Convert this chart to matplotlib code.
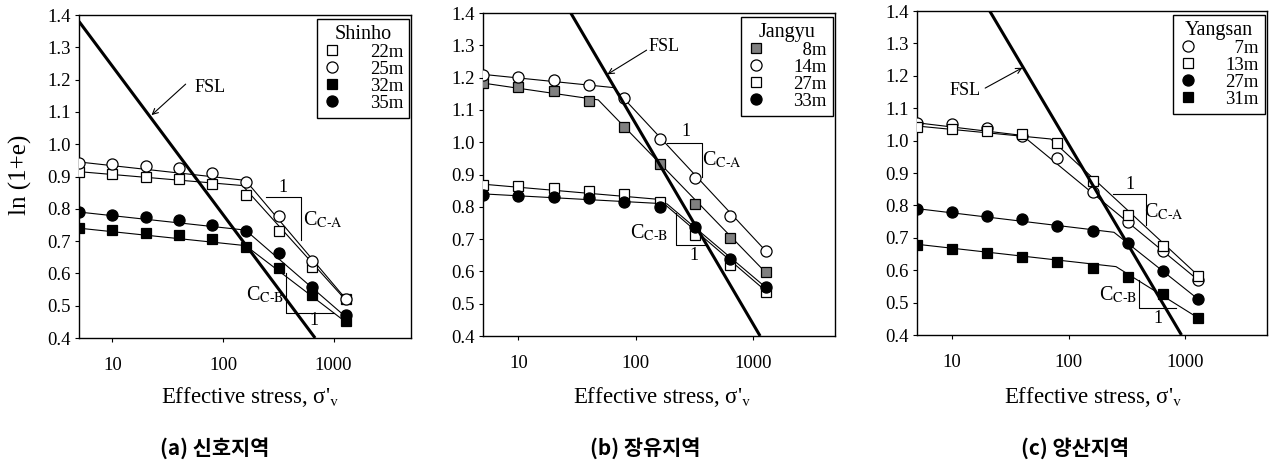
import matplotlib
matplotlib.use('Agg')
import matplotlib.pyplot as plt
from matplotlib.lines import Line2D

plt.rcParams['font.family'] = ['Liberation Serif', 'DejaVu Serif']
plt.rcParams['mathtext.fontset'] = 'stix'

# consolidation test points, e = void ratio, plotted as ln(1+e)
stress = [5, 10, 20, 40, 80, 160, 320, 640, 1280]

shinho_22 = [0.915, 0.908, 0.899, 0.891, 0.877, 0.843, 0.732, 0.621, 0.521]
shinho_25 = [0.943, 0.938, 0.933, 0.925, 0.910, 0.884, 0.778, 0.638, 0.521]
shinho_32 = [0.740, 0.734, 0.724, 0.719, 0.706, 0.683, 0.618, 0.533, 0.454]
shinho_35 = [0.789, 0.781, 0.774, 0.765, 0.750, 0.732, 0.662, 0.557, 0.471]

jangyu_8 = [1.184, 1.172, 1.159, 1.128, 1.046, 0.932, 0.809, 0.704, 0.597]
jangyu_14 = [1.208, 1.201, 1.193, 1.177, 1.136, 1.009, 0.888, 0.772, 0.664]
jangyu_27 = [0.867, 0.864, 0.857, 0.850, 0.839, 0.815, 0.713, 0.620, 0.537]
jangyu_33 = [0.837, 0.833, 0.831, 0.826, 0.816, 0.800, 0.738, 0.637, 0.551]

yangsan_7 = [1.055, 1.050, 1.040, 1.014, 0.945, 0.842, 0.750, 0.660, 0.570]
yangsan_13 = [1.041, 1.035, 1.030, 1.019, 0.992, 0.875, 0.770, 0.675, 0.582]
yangsan_27 = [0.788, 0.779, 0.768, 0.758, 0.737, 0.721, 0.683, 0.598, 0.511]
yangsan_31 = [0.678, 0.665, 0.654, 0.642, 0.626, 0.608, 0.580, 0.527, 0.453]

# bilinear fits (start, yield point, end)
shinho_22_fit = ([5, 150, 1280], [0.915, 0.872, 0.518])
shinho_25_fit = ([5, 160, 1280], [0.945, 0.888, 0.522])
shinho_32_fit = ([5, 160, 1280], [0.740, 0.686, 0.450])
shinho_35_fit = ([5, 160, 1280], [0.790, 0.734, 0.466])

jangyu_8_fit = ([5, 48, 1280], [1.183, 1.131, 0.597])
jangyu_14_fit = ([5, 65, 1280], [1.210, 1.169, 0.664])
jangyu_27_fit = ([5, 158, 1280], [0.870, 0.823, 0.540])
jangyu_33_fit = ([5, 185, 1280], [0.840, 0.809, 0.551])

yangsan_7_fit = ([5, 40, 1280], [1.055, 1.016, 0.570])
yangsan_13_fit = ([5, 70, 1280], [1.045, 1.005, 0.584])
yangsan_27_fit = ([5, 244, 1280], [0.790, 0.717, 0.511])
yangsan_31_fit = ([5, 254, 1280], [0.680, 0.611, 0.453])

# flow state line ends
shinho_fsl = ([5, 680], [1.38, 0.40])
jangyu_fsl = ([28, 1150], [1.40, 0.40])
yangsan_fsl = ([21, 925], [1.40, 0.40])

site_names = ['Shinho', 'Jangyu', 'Yangsan']
captions = ['(a) 신호지역', '(b) 장유지역', '(c) 양산지역']

open_sq = dict(marker='s', mfc='white', mec='black', ms=6.5)
open_ci = dict(marker='o', mfc='white', mec='black', ms=8)
full_sq = dict(marker='s', mfc='black', mec='black', ms=6.5)
full_ci = dict(marker='o', mfc='black', mec='black', ms=8)
grey_sq = dict(marker='s', mfc='0.5', mec='black', ms=6.5)

panels = [
    [('22m', shinho_22, shinho_22_fit, open_sq),
     ('25m', shinho_25, shinho_25_fit, open_ci),
     ('32m', shinho_32, shinho_32_fit, full_sq),
     ('35m', shinho_35, shinho_35_fit, full_ci)],
    [('  8m', jangyu_8, jangyu_8_fit, grey_sq),
     ('14m', jangyu_14, jangyu_14_fit, open_ci),
     ('27m', jangyu_27, jangyu_27_fit, open_sq),
     ('33m', jangyu_33, jangyu_33_fit, full_ci)],
    [('  7m', yangsan_7, yangsan_7_fit, open_ci),
     ('13m', yangsan_13, yangsan_13_fit, open_sq),
     ('27m', yangsan_27, yangsan_27_fit, full_ci),
     ('31m', yangsan_31, yangsan_31_fit, full_sq)],
]
fsl_lines = [shinho_fsl, jangyu_fsl, yangsan_fsl]

# FSL label, arrow tail, arrow head
fsl_notes = [
    ((76, 1.174), (46, 1.186), (22.6, 1.09)),
    ((175, 1.295), (124, 1.285), (57.4, 1.21)),
    ((13.0, 1.156), (19.2, 1.162), (40.1, 1.225)),
]

# slope triangles: (x0, x1, ytop, ybottom, label pos, '1' pos)
cca = [
    (246, 512, 0.837, 0.703, (795, 0.765), (351, 0.866)),
    (185, 371, 0.998, 0.892, (541, 0.945), (270, 1.034)),
    (239, 461, 0.835, 0.740, (660, 0.780), (336, 0.865)),
]
ccb = [
    (374, 1000, 0.601, 0.477, (241, 0.533), (658, 0.454)),
    (221, 401, 0.781, 0.682, (129, 0.719), (316, 0.649)),
    (401, 835, 0.570, 0.483, (264, 0.523), (585, 0.450)),
]

boxes = [
    [79 / 1269, 1 - 338 / 470, 332 / 1269, 323 / 470],
    [483 / 1269, 1 - 336 / 470, 352 / 1269, 323 / 470],
    [917 / 1269, 1 - 335 / 470, 350 / 1269, 324 / 470],
]
xlabel_x = [250, 662, 1093]
caption_x = [215, 645, 1075]

fig = plt.figure(figsize=(12.69, 4.70), dpi=100)

for i in range(3):
    ax = fig.add_axes(boxes[i])
    ax.set_xscale('log')
    ax.set_xlim(5, 5000)
    ax.set_ylim(0.4, 1.4)
    ax.set_xticks([10, 100, 1000])
    ax.set_xticklabels(['10', '100', '1000'])
    ax.minorticks_off()
    ax.set_yticks([0.4, 0.5, 0.6, 0.7, 0.8, 0.9, 1.0, 1.1, 1.2, 1.3, 1.4])
    ax.set_yticklabels(['%.1f' % v for v in ax.get_yticks()])
    ax.tick_params(direction='out', length=3, width=0.8, labelsize=13.5,
                   pad=3)
    ax.tick_params(axis='x', pad=11)
    for sp in ax.spines.values():
        sp.set_linewidth(1.0)

    handles = []
    for label, vals, fit, style in panels[i]:
        ax.plot(fit[0], fit[1], color='black', lw=0.8, zorder=2)
        ax.plot(stress, vals, linestyle='none', zorder=3, mew=0.9, **style)
        handles.append(Line2D([], [], linestyle='none', mew=0.9,
                              label=label, **style))

    fx, fy = fsl_lines[i]
    ax.plot(fx, fy, color='black', lw=2.2, zorder=4, solid_capstyle='butt')
    txt, tail, head = fsl_notes[i]
    ax.text(txt[0], txt[1], 'FSL', fontsize=13, ha='center', va='center')
    ax.annotate('', xy=head, xytext=tail,
                arrowprops=dict(arrowstyle='->', lw=0.8, color='black',
                                shrinkA=0, shrinkB=0))

    x0, x1, yt, yb, lab, one = cca[i]
    ax.plot([x0, x1, x1], [yt, yt, yb], color='black', lw=0.8, zorder=2)
    ax.text(lab[0], lab[1], r'C$_{\mathrm{C\text{-}A}}$', fontsize=14.5,
            ha='center', va='center')
    ax.text(one[0], one[1], '1', fontsize=13, ha='center', va='center')

    x0, x1, yt, yb, lab, one = ccb[i]
    ax.plot([x0, x0, x1], [yt, yb, yb], color='black', lw=0.8, zorder=2)
    ax.text(lab[0], lab[1], r'C$_{\mathrm{C\text{-}B}}$', fontsize=14.5,
            ha='center', va='center')
    ax.text(one[0], one[1], '1', fontsize=13, ha='center', va='center')

    leg = ax.legend(handles=handles, title=site_names[i], loc='upper right',
                    bbox_to_anchor=(0.993, 0.988), fontsize=13.5,
                    title_fontsize=14.5, frameon=True, fancybox=False,
                    edgecolor='black', framealpha=1, borderpad=0.3,
                    labelspacing=0.0, handlelength=1.0, handletextpad=1.5,
                    borderaxespad=0)
    leg.get_frame().set_linewidth(1.0)

    fig.text(xlabel_x[i] / 1269, 1 - 397 / 470,
             "Effective stress, σ'$_{\\mathrm{v}}$",
             fontsize=16.5, ha='center', va='center')
    fig.text(caption_x[i] / 1269, 1 - 448 / 470, captions[i],
             fontsize=15, ha='center', va='center', weight='bold',
             family=['Noto Sans CJK KR', 'DejaVu Sans'])

fig.text(20 / 1269, 1 - 175 / 470, 'ln (1+e)', fontsize=18, rotation=90,
         ha='center', va='center')

fig.savefig('out.png', dpi=100)
